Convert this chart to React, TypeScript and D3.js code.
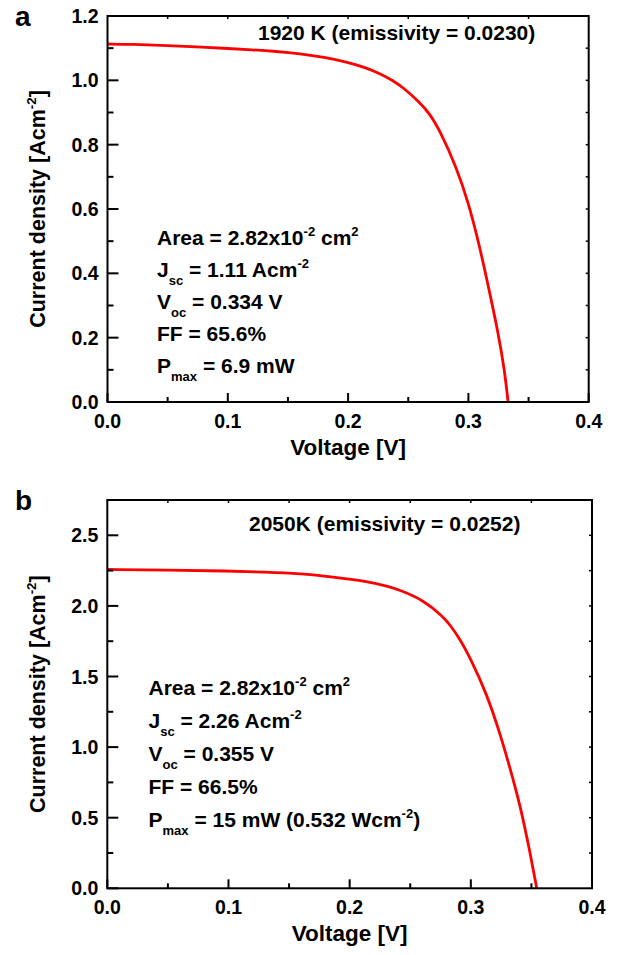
import * as d3 from "d3";

const WIDTH = 618;
const HEIGHT = 955;
const FONT = "'Liberation Sans', Arial, Helvetica, sans-serif";

// panel a — 1920 K
const voltageA = [0, 0.02, 0.05, 0.08, 0.1, 0.12, 0.14, 0.16, 0.18, 0.2, 0.215, 0.227, 0.237, 0.246, 0.26, 0.268, 0.276, 0.29, 0.3, 0.309, 0.318, 0.325, 0.33, 0.333];
const currentA = [1.113, 1.112, 1.108, 1.103, 1.099, 1.095, 1.09, 1.083, 1.072, 1.056, 1.039, 1.02, 1.0, 0.977, 0.93, 0.895, 0.846, 0.731, 0.62, 0.49, 0.335, 0.21, 0.1, 0.0];
const yTicksA = [0, 0.2, 0.4, 0.6, 0.8, 1.0, 1.2];

// panel b — 2050 K
const voltageB = [0, 0.05, 0.1, 0.13, 0.16, 0.186, 0.214, 0.233, 0.2416, 0.261, 0.277, 0.283, 0.291, 0.299, 0.313, 0.324, 0.332, 0.341, 0.349, 0.3544];
const currentB = [2.258, 2.254, 2.247, 2.24, 2.228, 2.205, 2.175, 2.135, 2.111, 2.041, 1.925, 1.864, 1.765, 1.64, 1.381, 1.098, 0.862, 0.579, 0.248, 0.0];
const yTicksB = [0, 0.5, 1.0, 1.5, 2.0, 2.5];

const xTicks = [0, 0.1, 0.2, 0.3, 0.4];

// text pieces: [text, kind] where kind is "" | "sub" | "sup"
type Piece = [string, string?];
const infoA: Piece[][] = [
  [["Area = 2.82x10"], ["-2", "sup"], [" cm"], ["2", "sup"]],
  [["J"], ["sc", "sub"], [" = 1.11 Acm"], ["-2", "sup"]],
  [["V"], ["oc", "sub"], [" = 0.334 V"]],
  [["FF = 65.6%"]],
  [["P"], ["max", "sub"], [" = 6.9 mW"]],
];
const infoB: Piece[][] = [
  [["Area = 2.82x10"], ["-2", "sup"], [" cm"], ["2", "sup"]],
  [["J"], ["sc", "sub"], [" = 2.26 Acm"], ["-2", "sup"]],
  [["V"], ["oc", "sub"], [" = 0.355 V"]],
  [["FF = 66.5%"]],
  [["P"], ["max", "sub"], [" = 15 mW (0.532 Wcm"], ["-2", "sup"], [")"]],
];

const RichText = ({ x, y, pieces, size, anchor = "start", transform }: any) => {
  let shift = 0;
  return (
    <text
      x={x}
      y={y}
      fontSize={size}
      fontWeight="bold"
      textAnchor={anchor}
      transform={transform}
      style={{ whiteSpace: "pre" }}
    >
      {pieces.map(([t, kind]: Piece, i: number) => {
        const target = kind === "sup" ? -size * 0.42 : kind === "sub" ? size * 0.38 : 0;
        const dy = target - shift;
        shift = target;
        return (
          <tspan key={i} dy={dy} fontSize={kind ? size * 0.62 : size}>
            {t}
          </tspan>
        );
      })}
    </text>
  );
};

const Panel = ({ letter, title, titleX, titleY, voltage, current, yTicks, yMax, yMinorStep, x0, x1, yTop, yBottom, info, infoX, infoY, infoGap }: any) => {
  const x = d3.scaleLinear().domain([0, 0.4]).range([x0, x1]);
  const y = d3.scaleLinear().domain([0, yMax]).range([yBottom, yTop]);
  const xMinor = d3.range(0.05, 0.4, 0.1);
  const yMinor = d3.range(yMinorStep, yMax, yMinorStep * 2);
  const xAll = d3.range(0.05, 0.4, 0.05);
  const yAll = d3.range(yMinorStep, yMax, yMinorStep);

  const line = d3
    .line<number>()
    .x((_, i) => x(voltage[i]))
    .y((d) => y(d))
    .curve(d3.curveBasis);

  const midY = (yTop + yBottom) / 2;

  return (
    <g>
      <text x={15} y={yTop + 10} fontSize={28} fontWeight="bold">
        {letter}
      </text>

      {/* curve */}
      <path d={line(current) ?? ""} fill="none" stroke="#ff0000" strokeWidth={2.8} />

      {/* frame */}
      <rect x={x0} y={yTop} width={x1 - x0} height={yBottom - yTop} fill="none" stroke="#000" strokeWidth={2} />

      {/* bottom ticks, pointing in */}
      {xTicks.map((t) => (
        <line key={"xb" + t} x1={x(t)} x2={x(t)} y1={yBottom} y2={yBottom - 9} stroke="#000" strokeWidth={2} />
      ))}
      {xMinor.map((t) => (
        <line key={"xm" + t} x1={x(t)} x2={x(t)} y1={yBottom} y2={yBottom - 5} stroke="#000" strokeWidth={2} />
      ))}
      {/* top ticks */}
      {xAll.map((t) => (
        <line key={"xt" + t} x1={x(t)} x2={x(t)} y1={yTop} y2={yTop + 3} stroke="#000" strokeWidth={1.5} />
      ))}
      {/* left ticks */}
      {yTicks.map((t: number) => (
        <line key={"yl" + t} x1={x0} x2={x0 + 11} y1={y(t)} y2={y(t)} stroke="#000" strokeWidth={2} />
      ))}
      {yMinor.map((t: number) => (
        <line key={"ym" + t} x1={x0} x2={x0 + 6} y1={y(t)} y2={y(t)} stroke="#000" strokeWidth={2} />
      ))}
      {/* right ticks */}
      {yAll.map((t: number) => (
        <line key={"yr" + t} x1={x1} x2={x1 - 3} y1={y(t)} y2={y(t)} stroke="#000" strokeWidth={1.5} />
      ))}

      {/* tick labels */}
      {xTicks.map((t) => (
        <text key={"xl" + t} x={x(t)} y={yBottom + 26} fontSize={19.5} fontWeight="bold" textAnchor="middle">
          {d3.format(".1f")(t)}
        </text>
      ))}
      {yTicks.map((t: number) => (
        <text key={"yt" + t} x={x0 - 9} y={y(t)} dy="0.36em" fontSize={19.5} fontWeight="bold" textAnchor="end">
          {d3.format(".1f")(t)}
        </text>
      ))}

      {/* axis titles */}
      <text x={(x0 + x1) / 2} y={yBottom + 53} fontSize={22.5} fontWeight="bold" textAnchor="middle">
        Voltage [V]
      </text>
      <RichText
        x={0}
        y={0}
        size={21.5}
        anchor="middle"
        transform={`translate(45,${midY}) rotate(-90)`}
        pieces={[["Current density [Acm"], ["-2", "sup"], ["]"]]}
      />

      <text x={titleX} y={titleY} fontSize={21} fontWeight="bold" style={{ whiteSpace: "pre" }}>
        {title}
      </text>

      {info.map((pieces: Piece[], i: number) => (
        <RichText key={i} x={infoX} y={infoY + i * infoGap} size={21} pieces={pieces} />
      ))}
    </g>
  );
};

const App = () => {
  return (
    <svg
      width={WIDTH}
      height={HEIGHT}
      viewBox={`0 0 ${WIDTH} ${HEIGHT}`}
      style={{ position: "absolute", left: 0, top: 0, background: "#fff", fontFamily: FONT }}
    >
      <rect width={WIDTH} height={HEIGHT} fill="#fff" />
      <Panel
        letter="a"
        title="1920 K (emissivity = 0.0230)"
        titleX={258}
        titleY={40}
        voltage={voltageA}
        current={currentA}
        yTicks={yTicksA}
        yMax={1.2}
        yMinorStep={0.1}
        x0={107.5}
        x1={588.7}
        yTop={16}
        yBottom={402}
        info={infoA}
        infoX={157}
        infoY={245}
        infoGap={32}
      />
      <Panel
        letter="b"
        title="2050K (emissivity = 0.0252)"
        titleX={249}
        titleY={531}
        voltage={voltageB}
        current={currentB}
        yTicks={yTicksB}
        yMax={2.75}
        yMinorStep={0.25}
        x0={107.3}
        x1={592}
        yTop={500}
        yBottom={888.3}
        info={infoB}
        infoX={148.5}
        infoY={695}
        infoGap={33}
      />
    </svg>
  );
};

export default App;
